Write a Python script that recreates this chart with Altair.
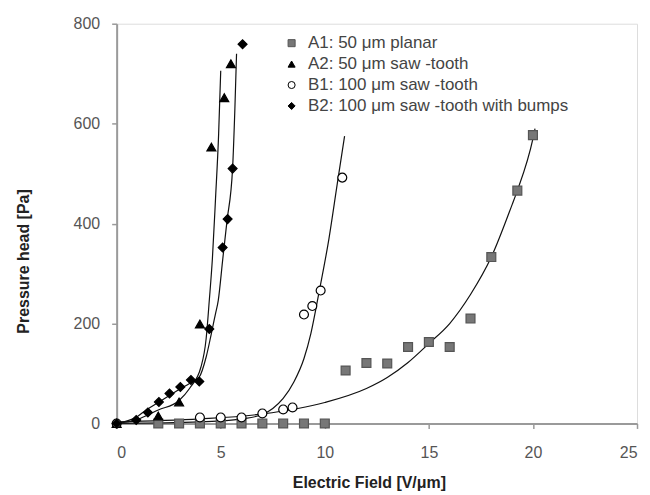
import altair as alt
import pandas as pd

series_names = [
    "A1: 50 μm planar",
    "A2: 50 μm saw -tooth",
    "B1: 100 μm saw -tooth",
    "B2: 100 μm saw -tooth with bumps",
]

# Measured points
a1_x = [2, 3, 4, 5, 6, 7, 8, 9, 10, 11, 12, 13, 14, 15, 16, 17, 18, 19.25, 20]
a1_y = [0, 0, 0, 0, 0, 0, 0, 0, 0, 106, 121, 120, 153, 163, 153, 210, 333, 466, 577]

a2_x = [0, 2, 3, 4.0, 4.55, 5.17, 5.49]
a2_y = [0, 15, 43, 199, 553, 652, 720]

b1_x = [0, 4, 5, 6, 7, 8, 8.45, 9.0, 9.4, 9.8, 10.84]
b1_y = [0, 12, 12, 12, 20, 28, 32, 218, 235, 266, 492]

b2_x = [0, 0.94, 1.5, 2.03, 2.54, 3.06, 3.57, 3.97, 4.45, 5.09, 5.33, 5.57, 6.05]
b2_y = [0, 7, 22, 43, 60, 73, 87, 84, 189, 352, 409, 510, 759]

# Trend lines
a1_fit_x = [0, 4, 7, 10, 12, 13, 14, 15, 16, 17, 18, 19, 19.25, 20, 20.1]
a1_fit_y = [3, 9, 19, 42, 70, 92, 122, 160, 200, 258, 333, 438, 466, 570, 590]

a2_fit_x = [0, 1, 2, 3, 3.5, 4.05, 4.3, 4.45, 4.6, 4.75, 4.9, 5.0]
a2_fit_y = [0, 8, 27, 46, 70, 113, 170, 246, 330, 450, 580, 706]

b1_fit_x = [0, 4, 5, 6, 7, 7.5, 8.0, 8.5, 9.0, 9.33, 9.72, 10.2, 10.6, 10.95]
b1_fit_y = [0, 3, 5, 9, 18, 30, 50, 82, 130, 180, 262, 370, 480, 575]

b2_fit_x = [0, 1, 1.42, 2, 2.5, 3, 3.5, 3.97, 4.3, 4.55, 4.75, 4.88, 5.1, 5.3, 5.57, 5.68, 5.76]
b2_fit_y = [0, 14, 27, 42, 55, 68, 80, 93, 133, 180, 220, 246, 330, 405, 511, 630, 740]

x_ticks = [0, 5, 10, 15, 20, 25]
y_ticks = [0, 200, 400, 600, 800]

def frame(xs, ys, name):
    d = pd.DataFrame({"x": xs, "y": ys, "series": name})
    d["i"] = range(len(xs))
    return d

pts = pd.concat([
    frame(a1_x, a1_y, series_names[0]),
    frame(a2_x, a2_y, series_names[1]),
    frame(b1_x, b1_y, series_names[2]),
    frame(b2_x, b2_y, series_names[3]),
], ignore_index=True)

fits = pd.concat([
    frame(a1_fit_x, a1_fit_y, series_names[0]),
    frame(a2_fit_x, a2_fit_y, series_names[1]),
    frame(b1_fit_x, b1_fit_y, series_names[2]),
    frame(b2_fit_x, b2_fit_y, series_names[3]),
], ignore_index=True)

FONT = "Liberation Sans"

x_scale = alt.Scale(domain=[0, 25], nice=False)
y_scale = alt.Scale(domain=[0, 800], nice=False)

x_axis = alt.Axis(
    values=x_ticks, title="Electric Field [V/μm]", grid=False,
    domainColor="#9a9a9a", domainWidth=2, tickColor="#9a9a9a", tickSize=5, tickWidth=1.5,
    labelFont=FONT, labelFontSize=16, labelColor="#555555", labelPadding=16,
    titleFont=FONT, titleFontSize=16, titleFontWeight="bold", titleColor="#222222",
    titleX=253, titleY=59, titleBaseline="middle", titleAlign="center",
)
y_axis = alt.Axis(
    values=y_ticks, title="Pressure head [Pa]", grid=False,
    domainColor="#9a9a9a", domainWidth=2, tickColor="#9a9a9a", tickSize=5, tickWidth=1.5,
    labelFont=FONT, labelFontSize=16, labelColor="#555555", labelPadding=12,
    titleFont=FONT, titleFontSize=16, titleFontWeight="bold", titleColor="#222222",
    titleAngle=270, titleX=-93, titleY=238, titleBaseline="middle", titleAlign="center",
)

lines = alt.Chart(fits).mark_line(color="#111111", strokeWidth=1.2, interpolate="monotone").encode(
    x=alt.X("x:Q", scale=x_scale, axis=x_axis),
    y=alt.Y("y:Q", scale=y_scale, axis=y_axis),
    detail="series:N",
    order="i:Q",
)

legend = alt.Legend(
    title=None, orient="none", legendX=167, legendY=11, padding=0,
    labelFont=FONT, labelFontSize=17, labelColor="#444444", labelOffset=8,
    symbolSize=50, symbolStrokeWidth=1, rowPadding=3, labelLimit=400,
)

points = alt.Chart(pts).mark_point(filled=True, opacity=1, strokeWidth=1.2).encode(
    x=alt.X("x:Q", scale=x_scale, axis=x_axis),
    y=alt.Y("y:Q", scale=y_scale, axis=y_axis),
    shape=alt.Shape("series:N", scale=alt.Scale(domain=series_names,
                    range=["square", "triangle-up", "circle", "diamond"]), legend=legend),
    fill=alt.Fill("series:N", scale=alt.Scale(domain=series_names,
                  range=["#777777", "#000000", "#ffffff", "#000000"]), legend=legend),
    stroke=alt.Stroke("series:N", scale=alt.Scale(domain=series_names,
                      range=["#555555", "#000000", "#000000", "#000000"]), legend=legend),
    size=alt.value(80),
)

chart = alt.layer(lines, points).properties(
    width=522, height=401,
    autosize=alt.AutoSizeParams(type="none"),
    padding={"left": 109, "top": 15, "right": 5, "bottom": 70},
).configure_view(stroke="#aaaaaa", strokeWidth=2).configure(background="white")

chart.save("out.html", embed_options={"renderer": "svg", "actions": False})
